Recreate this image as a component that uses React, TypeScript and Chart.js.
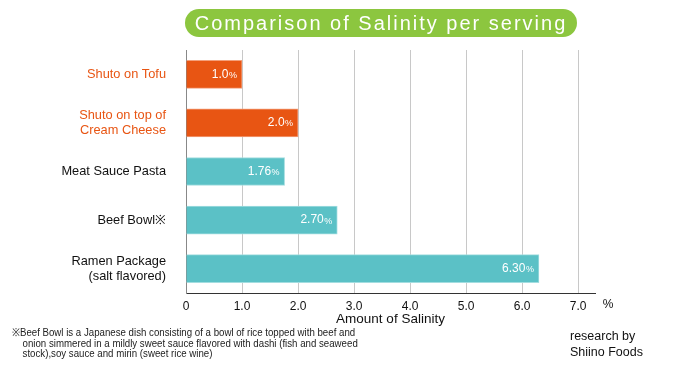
import React, { useEffect, useRef } from "react";
import { Chart, registerables } from "chart.js";

Chart.register(...registerables);

const categories: (string | string[])[] = [
  "Shuto on Tofu",
  ["Shuto on top of", "Cream Cheese"],
  "Meat Sauce Pasta",
  "Beef Bowl※",
  ["Ramen Package", "(salt flavored)"],
];
const values = [1.0, 2.0, 1.76, 2.7, 6.3];
const valueLabels = ["1.0", "2.0", "1.76", "2.70", "6.30"];
const barColors = ["#e85513", "#e85513", "#5bc1c6", "#5bc1c6", "#5bc1c6"];
const barEdgeColors = ["#f3a07c", "#f3a07c", "#a3dde0", "#a3dde0", "#a3dde0"];
const labelColors = ["#e85513", "#e85513", "#111111", "#111111", "#111111"];
const xTickValues = [0, 1, 2, 3, 4, 5, 6, 7];
const xTickLabels = ["0", "1.0", "2.0", "3.0", "4.0", "5.0", "6.0", "7.0"];
const xMax = 7.3;

const titleText = "Comparison of Salinity per serving";
const axisTitle = "Amount of Salinity";
const footnoteLines = [
  "※Beef Bowl is a Japanese dish consisting of a bowl of rice topped with beef and",
  "onion simmered in a mildly sweet sauce flavored with dashi (fish and seaweed",
  "stock),soy sauce and mirin (sweet rice wine)",
];
const sourceLines = ["research by", "Shiino Foods"];

const FONT = "'Liberation Sans', Arial, sans-serif";

const valueLabelPlugin = {
  id: "valueLabels",
  afterDatasetsDraw(chart: any) {
    const ctx = chart.ctx;
    const meta = chart.getDatasetMeta(0);
    ctx.save();
    ctx.fillStyle = "#ffffff";
    ctx.textBaseline = "middle";
    ctx.textAlign = "right";
    meta.data.forEach((bar: any, i: number) => {
      const right = bar.x - 5;
      ctx.font = `9px ${FONT}`;
      const pw = ctx.measureText("%").width;
      ctx.fillText("%", right, bar.y + 1);
      ctx.font = `12px ${FONT}`;
      ctx.fillText(valueLabels[i], right - pw - 0.5, bar.y);
    });
    const xs = chart.scales.x;
    ctx.fillStyle = "#111";
    ctx.textAlign = "center";
    ctx.font = `12px ${FONT}`;
    ctx.fillText("%", xs.right + 13, xs.top + 12);
    ctx.restore();
  },
};

export default function App() {
  const ref = useRef<HTMLCanvasElement>(null);
  useEffect(() => {
    document.body.style.margin = "0";
    const chart = new Chart(ref.current!, {
      type: "bar",
      data: {
        labels: categories,
        datasets: [
          {
            data: values,
            backgroundColor: barColors,
            borderColor: barEdgeColors,
            borderWidth: { top: 1, right: 1, bottom: 1, left: 0 },
            borderSkipped: false,
            barThickness: 28,
          },
        ],
      },
      options: {
        indexAxis: "y",
        responsive: false,
        animation: false,
        layout: { padding: { left: 0, top: 50, right: 85, bottom: 38 } },
        plugins: {
          legend: { display: false },
          tooltip: { enabled: false },
        },
        scales: {
          x: {
            min: 0,
            max: xMax,
            afterBuildTicks: (scale: any) => {
              scale.ticks = xTickValues.map((v) => ({ value: v }));
            },
            afterFit: (scale: any) => {
              scale.height = 34;
            },
            grid: { color: "#c8c8c8", lineWidth: 1, drawTicks: false },
            border: { display: true, color: "#333333", width: 1 },
            ticks: {
              padding: 6,
              color: "#111",
              font: { size: 12, family: FONT },
              callback: (v: any) => {
                const idx = xTickValues.indexOf(Number(v));
                return idx >= 0 ? xTickLabels[idx] : "";
              },
            },
            title: {
              display: true,
              text: axisTitle,
              color: "#111",
              font: { size: 13.5, family: FONT },
              padding: { top: 0, bottom: 0 },
            },
          },
          y: {
            afterFit: (scale: any) => {
              scale.width = 186;
            },
            grid: { display: false, drawTicks: false },
            border: { display: true, color: "#888888", width: 1 },
            ticks: {
              padding: 20,
              color: (c: any) => labelColors[c.index] || "#111",
              font: { size: 12.8, family: FONT, lineHeight: 1.2 },
            },
          },
        },
      },
      plugins: [valueLabelPlugin],
    });
    return () => chart.destroy();
  }, []);

  return (
    <div style={{ position: "relative", width: 680, height: 365, overflow: "hidden", fontFamily: FONT }}>
      <canvas ref={ref} width={680} height={365} style={{ position: "absolute", left: 0, top: 0 }} />
      <div
        style={{
          position: "absolute",
          left: 185,
          top: 9,
          width: 392,
          height: 28,
          borderRadius: 14,
          background: "#8cc63f",
          color: "#fff",
          fontSize: 20,
          letterSpacing: "2px",
          lineHeight: "28px",
          textAlign: "center",
          whiteSpace: "nowrap",
        }}
      >
        {titleText}
      </div>
      <div
        style={{
          position: "absolute",
          left: 12,
          top: 327,
          fontSize: 11,
          lineHeight: "10.5px",
          color: "#222",
          whiteSpace: "nowrap",
          transform: "scaleX(0.88)",
          transformOrigin: "left top",
        }}
      >
        {footnoteLines.map((l, i) => (
          <div key={i} style={{ paddingLeft: i === 0 ? 0 : 12 }}>
            {l}
          </div>
        ))}
      </div>
      <div
        style={{
          position: "absolute",
          left: 570,
          top: 328,
          fontSize: 12.5,
          lineHeight: "16px",
          color: "#111",
          whiteSpace: "nowrap",
        }}
      >
        {sourceLines.map((l, i) => (
          <div key={i}>{l}</div>
        ))}
      </div>
    </div>
  );
}
